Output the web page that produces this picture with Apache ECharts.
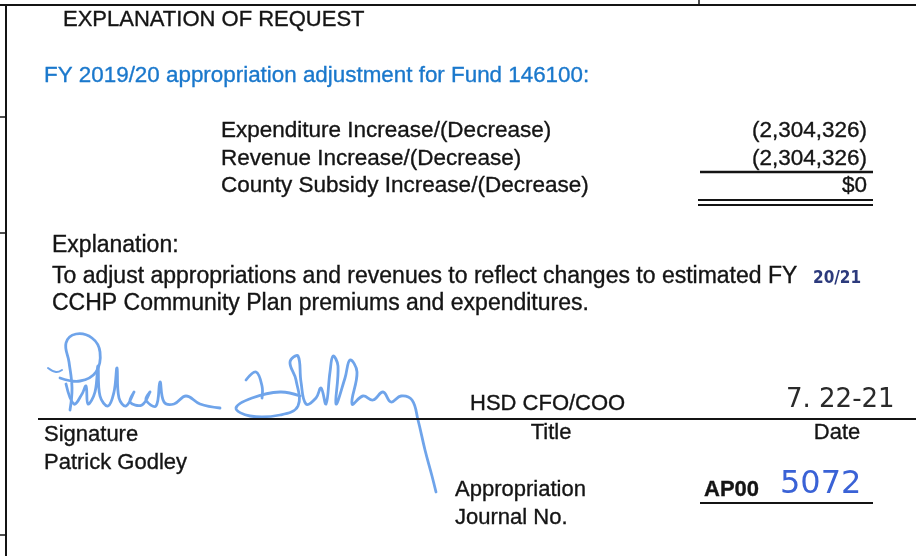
<!DOCTYPE html>
<html>
<head>
<meta charset="utf-8">
<title>Explanation of Request</title>
<script src="https://cdn.jsdelivr.net/npm/echarts@6/dist/echarts.min.js"></script>
<style>
  html, body { margin: 0; padding: 0; background: #fff; }
  #chart { width: 916px; height: 556px; }
</style>
</head>
<body>
<div id="chart"></div>
<script>
// form content
const headerTitle = "EXPLANATION OF REQUEST";
const fundLine = "FY 2019/20 appropriation adjustment for Fund 146100:";
const rowLabels = [
  "Expenditure Increase/(Decrease)",
  "Revenue Increase/(Decrease)",
  "County Subsidy Increase/(Decrease)",
];
const rowValues = [-2304326, -2304326, 0];
const explanationLines = [
  "Explanation:",
  "To adjust appropriations and revenues to reflect changes to estimated FY",
  "CCHP Community Plan premiums and expenditures.",
];
const handFiscalYear = "20/21";
const signerName = "Patrick Godley";
const signerTitle = "HSD CFO/COO";
const signedDate = "7. 22-21";
const journalPrefix = "AP00";
const journalNumber = "5072";

const FONT = "'Liberation Sans', Arial, sans-serif";
const INK = "#141414";
const BLUE = "#1a78cc";

function fmtMoney(v) {
  if (v === 0) return "$0";
  const s = Math.abs(v).toLocaleString("en-US");
  return v < 0 ? "(" + s + ")" : s;
}

function txt(text, x, y, opts) {
  opts = opts || {};
  const color = opts.color || INK;
  return {
    type: "text",
    x: x,
    y: y,
    style: {
      text: text,
      font: (opts.weight || "normal") + " " + (opts.size || 22) + "px " + (opts.family || FONT),
      fill: color,
      stroke: opts.hand ? null : color,
      lineWidth: opts.hand ? 0 : 0.35,
      textAlign: opts.align || "left",
      textVerticalAlign: "middle",
    },
  };
}

function line(x1, y1, x2, y2, w, color) {
  return {
    type: "line",
    shape: { x1: x1, y1: y1, x2: x2, y2: y2 },
    style: { stroke: color || INK, lineWidth: w || 2 },
  };
}

function stroke(points, color, w) {
  return {
    type: "polyline",
    shape: { points: points, smooth: 0.4 },
    style: { stroke: color, lineWidth: w || 2.8, fill: null, lineCap: "round", lineJoin: "round" },
  };
}

const chart = echarts.init(document.getElementById("chart"));

const els = [];

// frame
els.push(line(0, 5, 916, 5, 2));
els.push(line(6, 5, 6, 556, 2));
els.push(line(0, 117, 6, 117, 1.5));
els.push(line(0, 233, 6, 233, 1.5));
els.push(line(0, 535, 6, 535, 1.5));
els.push(line(699, 0, 699, 5, 1.5));

// heading
els.push(txt(headerTitle, 63, 20));
els.push(txt(fundLine, 44, 76, { color: BLUE, size: 22.4 }));

// amounts table
const rowY = [131, 159, 186];
rowLabels.forEach(function (lbl, i) {
  els.push(txt(lbl, 221, rowY[i], { size: 22.5 }));
  els.push(txt(fmtMoney(rowValues[i]), 867, rowY[i], { align: "right", size: 22.5 }));
});
els.push(line(700, 172, 873, 172, 2.5));
els.push(line(698, 200, 873, 200, 2));
els.push(line(698, 205, 873, 205, 2));

// explanation
const explY = [246, 277, 304];
explanationLines.forEach(function (t, i) {
  els.push(txt(t, 52, explY[i], { size: 23 }));
});
els.push(txt(handFiscalYear, 813, 279, { size: 17, weight: "bold", color: "#2c3a7c", hand: true, family: "'DejaVu Sans Condensed', sans-serif" }));

// signature
const SIG = "#6fa4ea";
els.push(stroke([[48, 368], [56, 372], [62, 370]], SIG, 2));
els.push(stroke([[70, 410], [72, 388], [69, 362], [66, 343], [76, 334], [92, 338], [100, 352], [96, 372], [80, 381], [60, 378]], SIG));
els.push(stroke([[66, 384], [74, 404], [82, 394], [86, 386], [88, 404], [95, 392], [98, 366], [100, 396], [108, 406], [114, 392],
  [117, 368], [119, 398], [126, 406], [134, 392], [130, 402], [142, 405], [150, 392], [146, 400], [156, 406], [160, 382],
  [164, 402], [174, 404], [186, 396], [200, 404], [220, 408]], SIG));
els.push(stroke([[246, 380], [256, 372], [262, 386], [262, 398]], SIG));
els.push(stroke([[300, 396], [280, 392], [252, 398], [236, 408], [250, 416], [280, 415], [298, 406], [296, 380], [290, 362],
  [298, 356], [301, 382], [306, 404], [316, 398], [321, 388], [326, 404], [330, 372], [333, 356], [338, 366], [336, 404],
  [345, 378], [350, 360], [357, 372], [352, 404], [363, 396], [373, 400], [383, 392], [391, 402], [401, 396], [412, 400],
  [418, 420], [425, 450], [432, 476], [436, 492]], SIG));

els.push(txt(signerTitle, 470, 404));
els.push(txt(signedDate, 786, 400, { size: 26, color: "#2a2a2a", hand: true, family: "'DejaVu Sans', sans-serif" }));
els.push(line(38, 419, 916, 419, 2.2));
els.push(txt("Signature", 44, 435));
els.push(txt(signerName, 44, 463));
els.push(txt("Title", 551, 433, { align: "center" }));
els.push(txt("Date", 837, 433, { align: "center" }));

// journal number
els.push(txt("Appropriation", 455, 490));
els.push(txt("Journal No.", 455, 518));
els.push(txt(journalPrefix, 704, 490, { weight: "bold" }));
els.push(txt(journalNumber, 780, 485, { size: 32, color: "#3a62d6", hand: true, family: "'DejaVu Sans', sans-serif" }));
els.push(line(700, 503, 873, 503, 2.2));

chart.setOption({
  backgroundColor: "#ffffff",
  animation: false,
  graphic: { elements: els },
});
</script>
</body>
</html>
